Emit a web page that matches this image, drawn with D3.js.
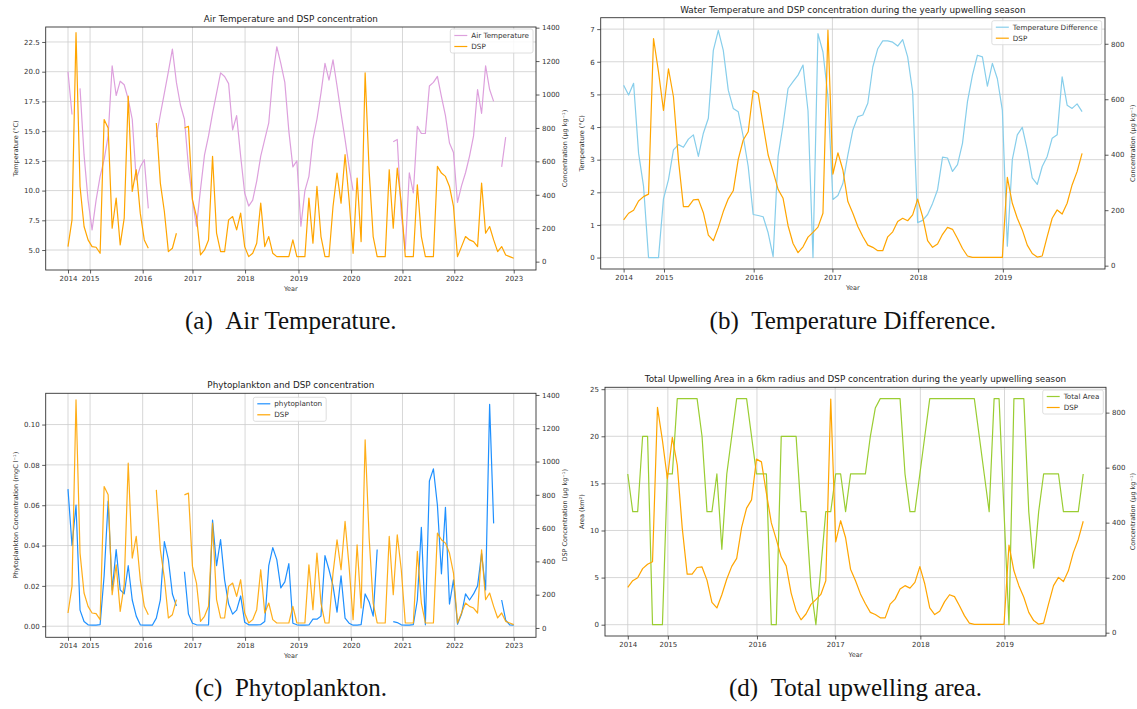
<!DOCTYPE html>
<html><head><meta charset="utf-8">
<script src="https://cdn.jsdelivr.net/npm/d3@7"></script>
<style>body{margin:0;background:#fff;} svg{display:block;}</style>
</head><body><svg id="c" width="1137" height="709"></svg>
<script>
// ---------- DATA ----------
// Panels (a) and (c): weekly samples, x axis = sample index, year ticks at first sample of each year
const yearLabelsAC = ["2014","2015","2016","2017","2018","2019","2020","2021","2022","2023"];
const yearTickIdxAC = [0, 5.5, 18.6, 31.0, 44.1, 57.4, 70.5, 83.3, 96.2, 111];
// Panels (b) and (d): upwelling-season samples
const yearLabelsBD = ["2014","2015","2016","2017","2018","2019"];
const yearTickIdxBD = [0, 8.1, 26.1, 41.9, 59.1, 76.1];

const airTemp = [
 20.0,16.4,null,18.6,13.0,9.2,6.7,9.2,11.2,12.6,
 14.6,20.5,18.0,19.2,18.9,17.7,16.0,10.9,12.0,12.6,
 8.5,null,14.5,16.4,18.2,20.0,21.9,19.1,17.2,16.0,
 12.0,9.2,7.0,10.1,13.0,14.6,16.5,18.2,19.9,19.6,
 19.0,15.1,16.3,12.9,9.8,8.7,9.2,10.8,12.9,14.3,
 15.7,19.6,22.1,20.7,19.1,15.0,12.0,12.5,7.0,10.0,
 11.2,14.3,16.0,18.2,20.7,19.3,21.0,18.8,16.5,14.3,
 12.0,10.0,null,null,null,null,null,null,null,null,
 null,14.1,14.3,8.0,5.0,11.5,9.8,15.4,14.8,14.8,
 18.8,19.1,19.6,17.9,16.3,14.0,13.2,9.0,10.4,11.5,
 12.9,14.6,18.5,16.5,20.5,18.5,17.5,null,12.0,14.5,
 null,null];

const dspWeekly = [
 90,250,1370,450,210,130,90,86,50,850,
 800,200,380,100,260,990,420,550,290,130,
 80,null,830,470,300,60,80,170,null,800,
 810,370,270,40,70,130,630,170,60,60,
 250,270,190,290,90,30,50,110,350,90,
 150,50,30,30,30,30,130,30,30,30,
 380,110,450,150,30,30,330,530,350,640,
 370,50,500,120,1130,540,150,30,30,30,
 550,200,560,350,30,30,30,460,150,30,
 30,30,570,530,510,450,330,30,90,150,
 130,120,90,470,170,210,130,60,90,40,
 30,20];

const phyto = [
 0.068,0.040,0.060,0.008,0.0023,0.0007,0.0005,0.0005,0.0008,0.025,
 0.062,0.018,0.038,0.018,0.016,0.030,0.013,0.005,0.0007,0.0005,
 0.0005,0.0005,0.004,0.013,0.042,0.033,0.016,0.010,null,0.027,
 0.006,0.0015,0.0007,0.0006,0.0006,0.0006,0.0526,0.030,0.043,0.023,
 0.011,0.006,0.008,0.015,0.002,0.0007,0.0007,0.0007,0.0008,0.0023,
 0.030,0.039,0.033,0.019,0.022,0.031,0.0015,0.0007,0.0005,0.0005,
 0.0006,0.0035,0.0035,0.005,0.035,0.028,0.020,0.007,0.025,0.004,
 0.0015,0.0005,0.0005,0.0008,0.016,0.012,0.005,0.038,null,null,
 null,0.0023,0.0018,0.0007,0.0005,0.0005,0.0008,0.013,0.049,0.0007,
 0.072,0.078,0.060,0.026,0.059,0.011,0.023,0.001,0.006,0.016,
 0.013,0.016,0.020,0.036,0.018,0.110,0.051,null,0.013,0.003,
 0.0007,0.0005];

const tempDiff = [
 5.28,4.98,5.34,3.2,2.18,0,0,0,1.8,2.39,
 3.3,3.46,3.38,3.63,3.76,3.1,3.81,4.27,6.35,6.96,
 6.35,5.13,4.57,4.47,3.71,2.79,1.32,1.29,1.25,0.76,
 0.03,3.1,4.07,5.18,5.39,5.59,5.9,4.5,0,6.86,
 6.3,4.93,1.78,1.9,2.27,3.15,3.91,4.32,4.37,4.73,
 5.84,6.4,6.64,6.64,6.6,6.48,6.68,6.15,5.08,1.07,
 1.14,1.32,1.66,2.08,3.08,3.05,2.64,2.85,3.5,4.78,
 5.59,6.2,6.15,5.25,5.95,5.48,4.52,0.35,3.0,3.76,
 3.99,3.3,2.44,2.24,2.79,3.1,3.66,3.76,5.54,4.67,
 4.57,4.71,4.47];

const dspSeason = [
 165,189,200,233,249,258,819,699,560,710,
 609,381,213,213,237,239,191,110,90,138,
 195,241,270,383,453,483,631,621,507,399,
 339,275,243,144,80,47,68,103,120,139,
 189,849,330,407,345,231,189,141,105,74,
 66,54,54,104,122,159,171,162,183,240,
 177,90,66,78,113,138,131,98,62,35,
 30,30,30,30,30,30,30,318,225,171,
 129,74,44,31,35,105,171,201,186,225,
 291,339,405];

const totalArea = [
 16,12,12,20,20,0,0,0,16,16,
 24,24,24,24,24,20,12,12,16,8,
 16,20,24,24,24,20,16,16,16,0,
 0,20,20,20,20,12,12,4,0,6,
 12,12,16,16,12,16,16,16,16,20,
 23,24,24,24,24,24,16,12,12,16,
 20,24,24,24,24,24,24,24,24,24,
 24,20,16,12,24,24,12,0,24,24,
 24,12,6,12,16,16,16,16,12,12,
 12,12,16];

const airTempTicks = [5.0,7.5,10.0,12.5,15.0,17.5,20.0,22.5];
const dspTicksAC = [0,200,400,600,800,1000,1200,1400];
const tempDiffTicks = [0,1,2,3,4,5,6,7];
const dspTicksBD = [0,200,400,600,800];
const phytoTicks = [0,0.02,0.04,0.06,0.08,0.10];
const areaTicks = [0,5,10,15,20,25];

// ---------- DRAWING ----------
const svg = d3.select("#c");
const SANS = "'DejaVu Sans', sans-serif";
const INK = "#333";

const panels = [
 {L:45.7,R:536,T:27,B:270, xDomain:[-5.55,116.55], xTicks:yearTickIdxAC, xLabels:yearLabelsAC,
  yLDomain:[3.32,23.76], yLTicks:airTempTicks, yLFmt:d3.format(".1f"),
  yRDomain:[-50,1404], yRTicks:dspTicksAC,
  title:"Air Temperature and DSP concentration", titleY:22,
  leftLabel:"Temperature (°C)", leftDx:-30, rightLabel:"Concentration (μg kg⁻¹)", rightDx:29,
  left:{data:airTemp,color:"#dda0dd",label:"Air Temperature"}, right:{data:dspWeekly,color:"#ffa500",label:"DSP"},
  legend:{mode:"right",dx:3,dy:2}, caption:"(a)\u2002Air Temperature.", captionY:329},
 {L:600.7,R:1105,T:17.7,B:269, xDomain:[-4.6,96.6], xTicks:yearTickIdxBD, xLabels:yearLabelsBD,
  yLDomain:[-0.35,7.35], yLTicks:tempDiffTicks, yLFmt:d3.format("d"),
  yRDomain:[-12,894], yRTicks:dspTicksBD,
  title:"Water Temperature and DSP concentration during the yearly upwelling season", titleY:13,
  leftLabel:"Temperature (°C)", leftDx:-18.4, rightLabel:"Concentration (μg kg⁻¹)", rightDx:27.7,
  left:{data:tempDiff,color:"#87ceeb",label:"Temperature Difference"}, right:{data:dspSeason,color:"#ffa500",label:"DSP"},
  legend:{mode:"right",dx:3.3,dy:3}, caption:"(b)\u2002Temperature Difference.", captionY:329},
 {L:45.7,R:536,T:393.3,B:637.3, xDomain:[-5.55,116.55], xTicks:yearTickIdxAC, xLabels:yearLabelsAC,
  yLDomain:[-0.0055,0.1155], yLTicks:phytoTicks, yLFmt:d3.format(".2f"),
  yRDomain:[-56,1410], yRTicks:dspTicksAC,
  title:"Phytoplankton and DSP concentration", titleY:388,
  leftLabel:"Phytoplankton Concentration (mgC l⁻¹)", leftDx:-30, rightLabel:"DSP Concentration (μg kg⁻¹)", rightDx:29,
  left:{data:phyto,color:"#1e90ff",label:"phytoplanton"}, right:{data:dspWeekly,color:"#ffa500",label:"DSP",opacity:0.9},
  legend:{mode:"frac",frac:0.4234,dy:4}, caption:"(c)\u2002Phytoplankton.", captionY:696},
 {L:605,R:1106,T:387.3,B:636, xDomain:[-4.6,96.6], xTicks:yearTickIdxBD, xLabels:yearLabelsBD,
  yLDomain:[-1.2,25.2], yLTicks:areaTicks, yLFmt:d3.format("d"),
  yRDomain:[-12,892], yRTicks:dspTicksBD,
  title:"Total Upwelling Area in a 6km radius and DSP concentration during the yearly upwelling season", titleY:382,
  leftLabel:"Area (km²)", leftDx:-22.7, rightLabel:"Concentration (μg kg⁻¹)", rightDx:26.7,
  left:{data:totalArea,color:"#9acd32",label:"Total Area"}, right:{data:dspSeason,color:"#ffa500",label:"DSP"},
  legend:{mode:"right",dx:2.7,dy:2.7}, caption:"(d)\u2002Total upwelling area.", captionY:696}
];

function styleAxis(ga){
  ga.attr("font-family",SANS).attr("font-size",7);
  ga.select(".domain").remove();
  ga.selectAll(".tick line").attr("stroke",INK).attr("stroke-width",0.8);
  ga.selectAll(".tick text").attr("fill",INK);
}

panels.forEach(p=>{
  const g = svg.append("g");
  const x = d3.scaleLinear().domain(p.xDomain).range([p.L,p.R]);
  const yl = d3.scaleLinear().domain(p.yLDomain).range([p.B,p.T]);
  const yr = d3.scaleLinear().domain(p.yRDomain).range([p.B,p.T]);

  // grid
  g.append("g").selectAll("line").data(p.xTicks).join("line")
    .attr("x1",d=>x(d)).attr("x2",d=>x(d)).attr("y1",p.T).attr("y2",p.B)
    .attr("stroke","#cdcdcd").attr("stroke-width",0.8);
  g.append("g").selectAll("line").data(p.yLTicks).join("line")
    .attr("x1",p.L).attr("x2",p.R).attr("y1",d=>yl(d)).attr("y2",d=>yl(d))
    .attr("stroke","#cdcdcd").attr("stroke-width",0.8);

  // series
  const lineL = d3.line().defined(d=>d!==null).x((d,i)=>x(i)).y(d=>yl(d));
  const lineR = d3.line().defined(d=>d!==null).x((d,i)=>x(i)).y(d=>yr(d));
  g.append("path").datum(p.left.data).attr("d",lineL).attr("fill","none")
    .attr("stroke",p.left.color).attr("stroke-width",1.2).attr("stroke-linejoin","round");
  g.append("path").datum(p.right.data).attr("d",lineR).attr("fill","none")
    .attr("stroke",p.right.color).attr("stroke-width",1.2).attr("stroke-linejoin","round")
    .attr("opacity",p.right.opacity||1);

  // spines
  g.append("rect").attr("x",p.L).attr("y",p.T).attr("width",p.R-p.L).attr("height",p.B-p.T)
    .attr("fill","none").attr("stroke",INK).attr("stroke-width",0.9);

  // axes
  const gx = g.append("g").attr("transform",`translate(0,${p.B})`)
    .call(d3.axisBottom(x).tickValues(p.xTicks).tickFormat((d,i)=>p.xLabels[i]).tickSize(3.5).tickPadding(2.5));
  styleAxis(gx);
  const gl = g.append("g").attr("transform",`translate(${p.L},0)`)
    .call(d3.axisLeft(yl).tickValues(p.yLTicks).tickFormat(p.yLFmt).tickSize(3.5).tickPadding(2.5));
  styleAxis(gl);
  const gr = g.append("g").attr("transform",`translate(${p.R},0)`)
    .call(d3.axisRight(yr).tickValues(p.yRTicks).tickFormat(d3.format("d")).tickSize(3.5).tickPadding(2.5));
  styleAxis(gr);

  // labels
  const cx = (p.L+p.R)/2, cy = (p.T+p.B)/2;
  g.append("text").attr("x",cx).attr("y",p.titleY).attr("text-anchor","middle")
    .attr("font-family",SANS).attr("font-size",8.8).attr("fill","#222").text(p.title);
  g.append("text").attr("x",cx).attr("y",p.B+21).attr("text-anchor","middle")
    .attr("font-family",SANS).attr("font-size",6.5).attr("fill",INK).text("Year");
  g.append("text").attr("transform",`translate(${p.L+p.leftDx},${cy}) rotate(-90)`)
    .attr("text-anchor","middle").attr("dominant-baseline","central")
    .attr("font-family",SANS).attr("font-size",6.5).attr("fill",INK).text(p.leftLabel);
  g.append("text").attr("transform",`translate(${p.R+p.rightDx},${cy}) rotate(-90)`)
    .attr("text-anchor","middle").attr("dominant-baseline","central")
    .attr("font-family",SANS).attr("font-size",6.5).attr("fill",INK).text(p.rightLabel);

  // legend
  const items = [p.left,p.right];
  const lg = g.append("g");
  const box = lg.append("rect");
  const texts = items.map(it=>lg.append("text").attr("font-family",SANS).attr("font-size",7.2)
    .attr("fill",INK).attr("dominant-baseline","central").text(it.label));
  const tw = d3.max(texts,t=>t.node().getComputedTextLength());
  const w = 4+13+4+tw+4, h = 24;
  const bx = p.legend.mode==="right" ? p.R-p.legend.dx-w : p.L+p.legend.frac*(p.R-p.L);
  const by = p.T+p.legend.dy;
  box.attr("x",bx).attr("y",by).attr("width",w).attr("height",h).attr("rx",2)
    .attr("fill","#fff").attr("fill-opacity",0.85).attr("stroke","#d5d5d5").attr("stroke-width",0.8);
  items.forEach((it,k)=>{
    const ry = by+6.5+k*11;
    lg.append("line").attr("x1",bx+4).attr("x2",bx+17).attr("y1",ry).attr("y2",ry)
      .attr("stroke",it.color).attr("stroke-width",1.2);
    texts[k].attr("x",bx+21).attr("y",ry);
  });

  // caption
  svg.append("text").attr("x",cx).attr("y",p.captionY).attr("text-anchor","middle")
    .attr("font-family","'Liberation Serif', serif").attr("font-size",25).attr("fill","#111")
    .text(p.caption);
});
</script>
</body></html>
